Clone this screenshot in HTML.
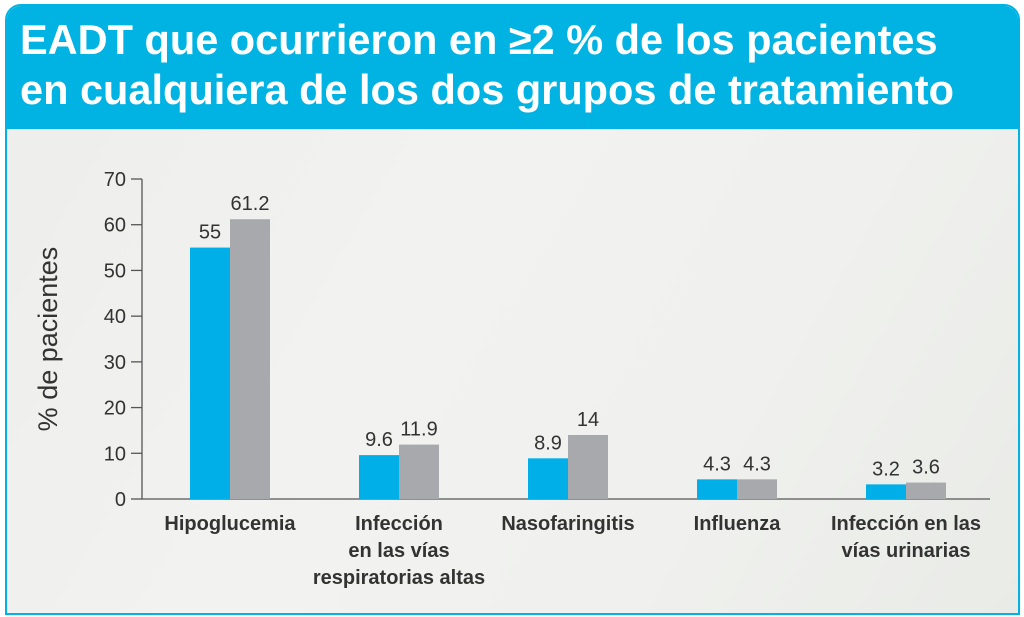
<!DOCTYPE html>
<html><head><meta charset="utf-8"><style>
body{margin:0;width:1024px;height:617px;background:#fff;font-family:"Liberation Sans",sans-serif;overflow:hidden}
#frame{position:absolute;left:5px;top:4px;width:1011px;height:607px;border:2px solid #00b3e3;border-radius:16px 16px 0 0;background:linear-gradient(120deg,#ededeb 0%,#f2f2f0 40%,#f0f1ee 70%,#e9ebe7 100%);overflow:hidden}
#hdr{position:absolute;left:0;top:0;width:100%;height:123px;background:#00b3e3;color:#fff;font-weight:bold;font-size:41.5px;line-height:50px;padding:9px 0 0 13px;box-sizing:border-box;white-space:nowrap}
svg{position:absolute;left:0;top:0}
</style></head><body>
<div id="frame">
<div id="hdr">EADT que ocurrieron en ≥2 % de los pacientes<br>en cualquiera de los dos grupos de tratamiento</div>
</div>
<svg id="c" width="1024" height="617"></svg>
<script>
const categories=[["Hipoglucemia"],["Infección","en las vías","respiratorias altas"],["Nasofaringitis"],["Influenza"],["Infección en las","vías urinarias"]];
const seriesA=[55,9.6,8.9,4.3,3.2];
const seriesB=[61.2,11.9,14,4.3,3.6];
const labelsA=["55","9.6","8.9","4.3","3.2"];
const labelsB=["61.2","11.9","14","4.3","3.6"];
const yTicks=[0,10,20,30,40,50,60,70];
const NS="http://www.w3.org/2000/svg",svg=document.getElementById('c');
const y=v=>499-v*320/70, cx=i=>230+i*169;
function mk(t,a,p){const e=document.createElementNS(NS,t);for(const k in a)e.setAttribute(k,a[k]);(p||svg).appendChild(e);return e;}
let ax=mk('path',{d:'M142,179V499H990',stroke:'#555',fill:'none','stroke-width':1.3});


yTicks.forEach(v=>{
 let l=mk('line',{x1:131,x2:142,y1:y(v),y2:y(v),stroke:'#555','stroke-width':1.3});
 
 
 let t=mk('text',{x:126,y:y(v)+7,'text-anchor':'end','font-size':20,fill:'#333'});t.textContent=v;
 
 
});
let yt=mk('text',{transform:'translate(57,339) rotate(-90)','text-anchor':'middle','font-size':27,fill:'#333'});yt.textContent='% de pacientes';


categories.forEach((c,i)=>{
 [[seriesA[i],labelsA[i],-40,'#00aee8'],[seriesB[i],labelsB[i],0,'#a8a9ad']].forEach(([v,lb,o,col],j)=>{
  let r=mk('rect',{x:cx(i)+o,y:y(v),width:40,height:499-y(v),fill:col});
  
  
  let t=mk('text',{x:cx(i)+o+20,y:y(v)-9,'text-anchor':'middle','font-size':20,fill:'#333'});t.textContent=lb;
  
  
 });
 c.forEach((ln,k)=>{
  let t=mk('text',{x:cx(i),y:530+k*27,'text-anchor':'middle','font-size':20,'font-weight':'bold',fill:'#333'});t.textContent=ln;
  
  
 });
});
</script>
</body></html>
